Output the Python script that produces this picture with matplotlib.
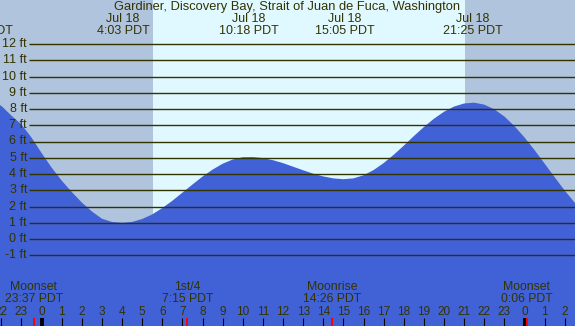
import numpy as np
import matplotlib
matplotlib.use('Agg')
import matplotlib.pyplot as plt

plt.rcParams['font.family'] = ['Liberation Sans', 'DejaVu Sans']

# tide heights (ft), read every half hour, hours from midnight Jul 18
tide_hours = np.arange(-2.5, 27.01, 0.5)
tide_ft = [8.45, 8.2, 7.6, 7.05, 6.25, 5.3, 4.4, 3.6, 2.9, 2.25, 1.7, 1.25, 1.05, 1.0,
           1.05, 1.23, 1.51, 1.90, 2.35, 2.85, 3.35, 3.84, 4.27, 4.63, 4.89, 5.03,
           5.04, 4.98, 4.85, 4.67, 4.45, 4.23, 4.02, 3.85, 3.73, 3.68,
           3.73, 3.92, 4.24, 4.67, 5.18, 5.74, 6.33, 6.89, 7.40, 7.83, 8.15, 8.34,
           8.39, 8.27, 7.98, 7.54, 6.95, 6.25, 5.47, 4.64, 3.80, 2.98, 2.23, 1.56]

# high / low tide labels
extreme_hours = [-2.9, 4.05, 10.3, 15.08, 21.42]
extreme_dates = ['Jul 17', 'Jul 18', 'Jul 18', 'Jul 18', 'Jul 18']
extreme_times = ['21:06 PDT', '4:03 PDT', '10:18 PDT', '15:05 PDT', '21:25 PDT']

# moon events
moon_hours = [-0.38, 7.25, 14.43, 24.1]
moon_names = ['Moonset', '1st/4', 'Moonrise', 'Moonset']
moon_times = ['23:37 PDT', '7:15 PDT', '14:26 PDT', '0:06 PDT']

sunrise, sunset = 5.54, 21.04
levels = list(range(-1, 13))
hour_ticks = list(range(-2, 27))

title = 'Gardiner, Discovery Bay, Strait of Juan de Fuca, Washington'

night = '#b0c4de'
day = '#e0f8ff'
water = '#4161d6'
ink = '#333300'

# pixel -> data helpers (0 ft at y=239px, 16.25 px/ft; hour 0 at x=41.5px, 20.125 px/h)
def fy(py):
    return (239 - py) / 16.25

def fx(px):
    return (px - 41.5) / 20.125

fig = plt.figure(figsize=(5.75, 3.26), dpi=100)
ax = fig.add_axes([0, 0, 1, 1])
ax.set_xlim(fx(0), fx(575))
ax.set_ylim(fy(326), fy(0))
ax.axis('off')
ax.add_patch(plt.Rectangle((fx(0), fy(326)), fx(575) - fx(0), fy(0) - fy(326),
                           color=night, zorder=0))
ax.axvspan(sunrise, sunset, color=day, lw=0, zorder=1)

ax.fill_between(tide_hours, tide_ft, fy(330), color=water, lw=0, zorder=2)

ax.hlines(levels, fx(29), fx(576), color=ink, lw=1.0, zorder=3)
for lv in levels:
    ax.text(fx(27), lv, '%d ft' % lv, ha='right', va='center', fontsize=9, color=ink, zorder=4)

ax.text(fx(287), fy(7), title, ha='center', va='center', fontsize=9.3, color=ink)
for h, d, t in zip(extreme_hours, extreme_dates, extreme_times):
    ax.text(h, fy(19), d, ha='center', va='center', fontsize=9, color=ink)
    ax.text(h, fy(31.5), t, ha='center', va='center', fontsize=9, color=ink)

# hour ticks along the bottom
for h in hour_ticks:
    lw = 2.8 if h % 24 == 0 else 0.8
    ax.vlines(h, fy(326), fy(318), color='black', lw=lw, zorder=5)
    ax.text(h, fy(311.7), str(h % 24), ha='center', va='center', fontsize=8.5, color=ink)

for h, n, t in zip(moon_hours, moon_names, moon_times):
    ax.vlines(h, fy(326), fy(318), color='red', lw=1.4, zorder=6)
    ax.text(h, fy(287.3), n, ha='center', va='center', fontsize=8.8, color=ink)
    ax.text(h, fy(299.3), t, ha='center', va='center', fontsize=8.8, color=ink)

fig.savefig('out.png', dpi=100)
